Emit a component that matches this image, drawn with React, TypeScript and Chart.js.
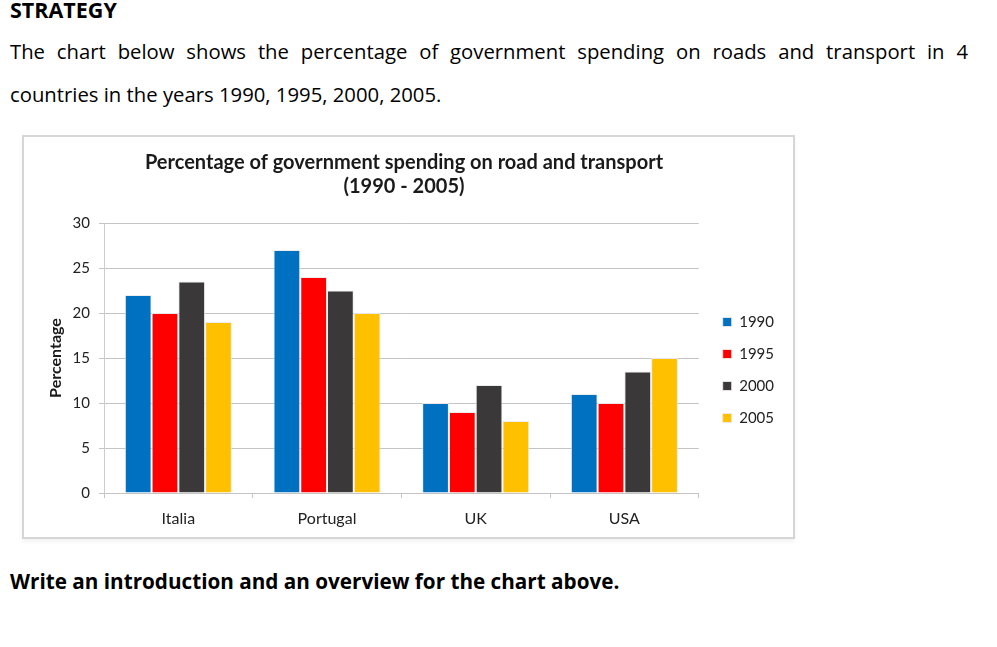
import React, { useEffect, useRef } from "react";
import { Chart, registerables } from "chart.js";

Chart.register(...registerables);

const categories = ["Italia", "Portugal", "UK", "USA"];
const seriesLabels = ["1990", "1995", "2000", "2005"];
const values1990 = [22, 27, 10, 11];
const values1995 = [20, 24, 9, 10];
const values2000 = [23.5, 22.5, 12, 13.5];
const values2005 = [19, 20, 8, 15];
const seriesColors = ["#0070C0", "#FF0000", "#3A3838", "#FFC000"];
const yTicks = [0, 5, 10, 15, 20, 25, 30];

const FONT = "Lato, Calibri, 'Open Sans', sans-serif";
const PAGE_FONT = "'Open Sans', 'Myriad Pro', sans-serif";

export default function App() {
  const ref = useRef<HTMLCanvasElement | null>(null);

  useEffect(() => {
    if (!ref.current) return;
    const seriesValues = [values1990, values1995, values2000, values2005];
    const chart = new Chart(ref.current, {
      type: "bar",
      data: {
        labels: categories,
        datasets: seriesLabels.map((label, i) => ({
          label,
          data: seriesValues[i],
          backgroundColor: seriesColors[i],
          borderColor: "rgba(235,235,235,0.9)",
          borderWidth: 1,
          categoryPercentage: 0.72,
          barPercentage: 1,
          yAxisID: "y",
        })),
      },
      options: {
        animation: false,
        responsive: false,
        maintainAspectRatio: false,
        layout: { padding: { left: 0, right: 9, top: 0, bottom: 0 } },
        plugins: {
          tooltip: { enabled: false },
          title: {
            display: true,
            text: ["Percentage of government spending on road and transport", "(1990 - 2005)"],
            color: "#1a1a1a",
            font: { family: FONT, size: 20, weight: "bold", lineHeight: "24px" },
            padding: { top: 14, bottom: 24 },
          },
          legend: {
            position: "right",
            align: "center",
            title: {
              display: true,
              text: " ",
              font: { family: FONT, size: 12, lineHeight: "14px" },
              padding: { top: 52, bottom: 0 },
            },
            labels: {
              boxWidth: 9,
              boxHeight: 9,
              padding: 17,
              color: "#222",
              font: { family: FONT, size: 15 },
            },
          },
        },
        scales: {
          x: {
            afterFit: (s: any) => {
              s.height = 44;
            },
            grid: {
              display: true,
              drawOnChartArea: false,
              drawTicks: true,
              tickLength: 5,
              color: "#c4c4c4",
            },
            border: { display: true, color: "#c4c4c4", width: 1 },
            ticks: {
              color: "#222",
              padding: 11,
              font: { family: FONT, size: 16 },
            },
          },
          y: {
            min: 0,
            max: 30,
            afterFit: (s: any) => {
              s.width = 80;
            },
            afterBuildTicks: (s: any) => {
              s.ticks = yTicks.map((v) => ({ value: v }));
            },
            grid: {
              color: "#c4c4c4",
              lineWidth: 1,
              drawTicks: true,
              tickLength: 5,
            },
            border: { display: true, color: "#cccccc", width: 1 },
            ticks: {
              color: "#222",
              padding: 9,
              font: { family: FONT, size: 15 },
            },
            title: {
              display: true,
              text: "Percentage",
              color: "#1a1a1a",
              font: { family: FONT, size: 16, weight: "bold", lineHeight: "18px" },
              padding: { top: 23, bottom: 0 },
            },
          },
          gap: {
            type: "linear",
            position: "right",
            display: true,
            afterFit: (s: any) => {
              s.width = 7;
            },
            grid: { display: false, drawOnChartArea: false, drawTicks: false },
            border: { display: false },
            ticks: { display: false },
          },
        },
      },
    });
    return () => chart.destroy();
  }, []);

  const base: React.CSSProperties = {
    position: "absolute",
    fontFamily: PAGE_FONT,
    color: "#000",
    margin: 0,
    whiteSpace: "nowrap",
  };

  return (
    <div style={{ position: "absolute", left: 0, top: 0, width: 997, height: 647, background: "#fff", overflow: "hidden" }}>
      <div style={{ ...base, left: 10, top: -2, fontSize: 21.5, fontWeight: 700, lineHeight: "24px" }}>STRATEGY</div>
      <div
        style={{
          ...base,
          left: 10,
          top: 39,
          width: 958,
          fontSize: 20.3,
          lineHeight: "24px",
          textAlign: "justify",
          textAlignLast: "justify",
          whiteSpace: "normal",
        }}
      >
        The chart below shows the percentage of government spending on roads and transport in 4
      </div>
      <div style={{ ...base, left: 10, top: 82, fontSize: 20.3, lineHeight: "24px" }}>
        countries in the years 1990, 1995, 2000, 2005.
      </div>
      <div
        style={{
          position: "absolute",
          left: 22,
          top: 135,
          width: 773,
          height: 404,
          boxSizing: "border-box",
          border: "2px solid #d6d6d6",
          boxShadow: "0 3px 4px rgba(0,0,0,0.05)",
          background: "#fff",
        }}
      />
      <canvas
        ref={ref}
        width={769}
        height={400}
        style={{ position: "absolute", left: 24, top: 137, width: 769, height: 400 }}
      />
      <div style={{ ...base, left: 10, top: 569, fontSize: 20.7, fontWeight: 700, lineHeight: "24px" }}>
        Write an introduction and an overview for the chart above.
      </div>
    </div>
  );
}
